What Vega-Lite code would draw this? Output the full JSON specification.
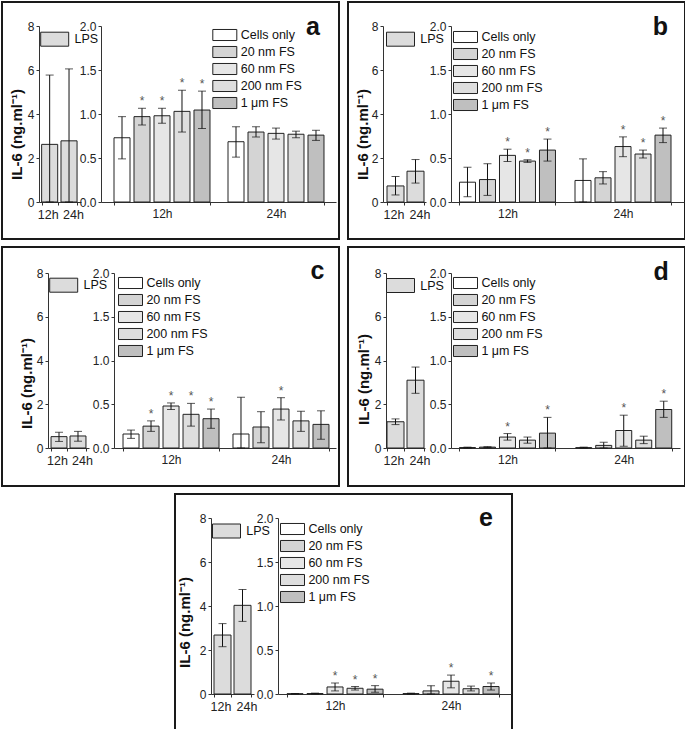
{
"$schema":"https://vega.github.io/schema/vega-lite/v6.json",
"padding":{"left":1,"top":1,"right":0,"bottom":0},
"background":"white",
"datasets":{
"lps":[
{"p":"a","t":"12h","g":"LPS","v":2.62,"lo":0,"hi":5.77},
{"p":"a","t":"24h","g":"LPS","v":2.78,"lo":0,"hi":6.05},
{"p":"b","t":"12h","g":"LPS","v":0.73,"lo":0.32,"hi":1.16},
{"p":"b","t":"24h","g":"LPS","v":1.40,"lo":0.86,"hi":1.93},
{"p":"c","t":"12h","g":"LPS","v":0.52,"lo":0.30,"hi":0.72},
{"p":"c","t":"24h","g":"LPS","v":0.55,"lo":0.31,"hi":0.76},
{"p":"d","t":"12h","g":"LPS","v":1.20,"lo":1.07,"hi":1.33},
{"p":"d","t":"24h","g":"LPS","v":3.10,"lo":2.50,"hi":3.70},
{"p":"e","t":"12h","g":"LPS","v":2.68,"lo":2.15,"hi":3.20},
{"p":"e","t":"24h","g":"LPS","v":4.03,"lo":3.30,"hi":4.75}
],
"fs":[
{"p":"a","t":"12h","s":"Cells only","v":0.73,"lo":0.49,"hi":0.97,"sig":false},
{"p":"a","t":"12h","s":"20 nm FS","v":0.97,"lo":0.875,"hi":1.065,"sig":true},
{"p":"a","t":"12h","s":"60 nm FS","v":0.98,"lo":0.895,"hi":1.065,"sig":true},
{"p":"a","t":"12h","s":"200 nm FS","v":1.03,"lo":0.795,"hi":1.27,"sig":true},
{"p":"a","t":"12h","s":"1 μm FS","v":1.045,"lo":0.835,"hi":1.26,"sig":true},
{"p":"a","t":"24h","s":"Cells only","v":0.685,"lo":0.51,"hi":0.855,"sig":false},
{"p":"a","t":"24h","s":"20 nm FS","v":0.795,"lo":0.74,"hi":0.855,"sig":false},
{"p":"a","t":"24h","s":"60 nm FS","v":0.78,"lo":0.715,"hi":0.84,"sig":false},
{"p":"a","t":"24h","s":"200 nm FS","v":0.77,"lo":0.73,"hi":0.805,"sig":false},
{"p":"a","t":"24h","s":"1 μm FS","v":0.76,"lo":0.70,"hi":0.815,"sig":false},
{"p":"b","t":"12h","s":"Cells only","v":0.225,"lo":0.06,"hi":0.395,"sig":false},
{"p":"b","t":"12h","s":"20 nm FS","v":0.255,"lo":0.075,"hi":0.435,"sig":false},
{"p":"b","t":"12h","s":"60 nm FS","v":0.53,"lo":0.46,"hi":0.60,"sig":true},
{"p":"b","t":"12h","s":"200 nm FS","v":0.465,"lo":0.45,"hi":0.48,"sig":true},
{"p":"b","t":"12h","s":"1 μm FS","v":0.59,"lo":0.465,"hi":0.715,"sig":true},
{"p":"b","t":"24h","s":"Cells only","v":0.245,"lo":0.0,"hi":0.49,"sig":false},
{"p":"b","t":"24h","s":"20 nm FS","v":0.275,"lo":0.205,"hi":0.345,"sig":false},
{"p":"b","t":"24h","s":"60 nm FS","v":0.63,"lo":0.515,"hi":0.74,"sig":true},
{"p":"b","t":"24h","s":"200 nm FS","v":0.545,"lo":0.50,"hi":0.59,"sig":true},
{"p":"b","t":"24h","s":"1 μm FS","v":0.76,"lo":0.675,"hi":0.84,"sig":true},
{"p":"c","t":"12h","s":"Cells only","v":0.16,"lo":0.11,"hi":0.205,"sig":false},
{"p":"c","t":"12h","s":"20 nm FS","v":0.25,"lo":0.19,"hi":0.31,"sig":true},
{"p":"c","t":"12h","s":"60 nm FS","v":0.48,"lo":0.44,"hi":0.515,"sig":true},
{"p":"c","t":"12h","s":"200 nm FS","v":0.385,"lo":0.25,"hi":0.51,"sig":true},
{"p":"c","t":"12h","s":"1 μm FS","v":0.335,"lo":0.225,"hi":0.445,"sig":true},
{"p":"c","t":"24h","s":"Cells only","v":0.16,"lo":0.0,"hi":0.58,"sig":false},
{"p":"c","t":"24h","s":"20 nm FS","v":0.24,"lo":0.06,"hi":0.415,"sig":false},
{"p":"c","t":"24h","s":"60 nm FS","v":0.445,"lo":0.32,"hi":0.575,"sig":true},
{"p":"c","t":"24h","s":"200 nm FS","v":0.31,"lo":0.19,"hi":0.42,"sig":false},
{"p":"c","t":"24h","s":"1 μm FS","v":0.27,"lo":0.10,"hi":0.425,"sig":false},
{"p":"d","t":"12h","s":"Cells only","v":0.005,"lo":0.0,"hi":0.01,"sig":false},
{"p":"d","t":"12h","s":"20 nm FS","v":0.01,"lo":0.005,"hi":0.015,"sig":false},
{"p":"d","t":"12h","s":"60 nm FS","v":0.125,"lo":0.09,"hi":0.165,"sig":true},
{"p":"d","t":"12h","s":"200 nm FS","v":0.09,"lo":0.055,"hi":0.125,"sig":false},
{"p":"d","t":"12h","s":"1 μm FS","v":0.17,"lo":0.0,"hi":0.35,"sig":true},
{"p":"d","t":"24h","s":"Cells only","v":0.004,"lo":0.0,"hi":0.01,"sig":false},
{"p":"d","t":"24h","s":"20 nm FS","v":0.03,"lo":0.0,"hi":0.065,"sig":false},
{"p":"d","t":"24h","s":"60 nm FS","v":0.20,"lo":0.02,"hi":0.375,"sig":true},
{"p":"d","t":"24h","s":"200 nm FS","v":0.09,"lo":0.05,"hi":0.135,"sig":false},
{"p":"d","t":"24h","s":"1 μm FS","v":0.44,"lo":0.35,"hi":0.535,"sig":true},
{"p":"e","t":"12h","s":"Cells only","v":0.003,"lo":0.0,"hi":0.006,"sig":false},
{"p":"e","t":"12h","s":"20 nm FS","v":0.005,"lo":0.002,"hi":0.01,"sig":false},
{"p":"e","t":"12h","s":"60 nm FS","v":0.08,"lo":0.035,"hi":0.125,"sig":true},
{"p":"e","t":"12h","s":"200 nm FS","v":0.065,"lo":0.045,"hi":0.085,"sig":true},
{"p":"e","t":"12h","s":"1 μm FS","v":0.055,"lo":0.02,"hi":0.095,"sig":true},
{"p":"e","t":"24h","s":"Cells only","v":0.005,"lo":0.0,"hi":0.01,"sig":false},
{"p":"e","t":"24h","s":"20 nm FS","v":0.035,"lo":0.0,"hi":0.095,"sig":false},
{"p":"e","t":"24h","s":"60 nm FS","v":0.145,"lo":0.07,"hi":0.215,"sig":true},
{"p":"e","t":"24h","s":"200 nm FS","v":0.06,"lo":0.035,"hi":0.09,"sig":false},
{"p":"e","t":"24h","s":"1 μm FS","v":0.085,"lo":0.045,"hi":0.125,"sig":true}
]
},
"vconcat":[
{"hconcat":[
{"width":337,"height":237,
"layer":[
{"data":{"name":"lps"},"transform":[{"filter":"datum.p==='a'"}],
"encoding":{"x":{"field":"t","type":"nominal","title":null,"scale":{"domain":["12h","24h"],"range":[37,79],"paddingInner":0.17,"paddingOuter":0.17,"align":0.4,"round":false},"axis":{"orient":"bottom","offset":-37,"labelAngle":0,"tickBand":"extent","labelPadding":3,"labelFontSize":12.5,"labelOffset":{"condition":{"test":"datum.value === '12h'","value":-2},"value":4}}}},
"layer":[
{"mark":{"type":"bar","stroke":"#222","strokeWidth":1},"encoding":{"y":{"field":"v","type":"quantitative","stack":null,"title":"IL-6 (ng.ml⁻¹)","scale":{"domain":[0,8],"range":[200,24]},"axis":{"orient":"left","offset":-37,"values":[0,2,4,6,8],"titleX":-23,"titleY":132}},"fill":{"field":"g","type":"nominal","scale":{"domain":["LPS"],"range":["#dcdcdc"]},"legend":{"orient":"none","legendX":45.2,"legendY":29.7,"title":null,"symbolType":"M-2,-1H2V1H-2Z","symbolSize":196,"labelOffset":12.3}}}},
{"mark":{"type":"rule","color":"#111"},"encoding":{"y":{"field":"lo","type":"quantitative","title":"IL-6 (ng.ml⁻¹)","scale":{"domain":[0,8],"range":[200,24]}},"y2":{"field":"hi"}}},
{"mark":{"type":"tick","color":"#111","size":8,"thickness":1},"encoding":{"y":{"field":"lo","type":"quantitative","title":"IL-6 (ng.ml⁻¹)","scale":{"domain":[0,8],"range":[200,24]}}}},
{"mark":{"type":"tick","color":"#111","size":8,"thickness":1},"encoding":{"y":{"field":"hi","type":"quantitative","title":"IL-6 (ng.ml⁻¹)","scale":{"domain":[0,8],"range":[200,24]}}}}
]},
{"data":{"name":"fs"},"transform":[{"filter":"datum.p==='a'"}],
"encoding":{"x":{"field":"t","type":"nominal","title":null,"scale":{"domain":["12h","24h"],"range":[99,334],"paddingInner":0.158,"paddingOuter":0.1097,"align":0.52,"round":false},"axis":{"orient":"bottom","offset":-37,"labelAngle":0,"tickBand":"extent","labelPadding":3}},
"xOffset":{"field":"s","type":"nominal","scale":{"domain":["Cells only","20 nm FS","60 nm FS","200 nm FS","1 μm FS"],"paddingInner":0.2,"paddingOuter":0}}},
"layer":[
{"mark":{"type":"bar","stroke":"#222","strokeWidth":1},"encoding":{"y":{"field":"v","type":"quantitative","stack":null,"title":null,"scale":{"domain":[0,2],"range":[200,24]},"axis":{"orient":"left","offset":-99,"values":[0,0.5,1,1.5,2],"format":".1f"}},"fill":{"field":"s","type":"nominal","scale":{"domain":["Cells only","20 nm FS","60 nm FS","200 nm FS","1 μm FS"],"range":["#ffffff","#d4d4d4","#e6e6e6","#dedede","#bfbfbf"]},"legend":{"orient":"none","legendX":216.3,"legendY":26.5,"title":null,"symbolType":"M-2,-0.92H2V0.92H-2Z","symbolSize":144,"labelOffset":9.4,"rowPadding":0}}}},
{"mark":{"type":"rule","color":"#111"},"encoding":{"y":{"field":"lo","type":"quantitative","title":null,"scale":{"domain":[0,2],"range":[200,24]}},"y2":{"field":"hi"}}},
{"mark":{"type":"tick","color":"#111","size":8,"thickness":1},"encoding":{"y":{"field":"lo","type":"quantitative","title":null,"scale":{"domain":[0,2],"range":[200,24]}}}},
{"mark":{"type":"tick","color":"#111","size":8,"thickness":1},"encoding":{"y":{"field":"hi","type":"quantitative","title":null,"scale":{"domain":[0,2],"range":[200,24]}}}},
{"transform":[{"filter":"datum.sig"}],"mark":{"type":"text","text":"*","fontSize":12,"color":"#555","baseline":"middle","dy":-7},"encoding":{"y":{"field":"hi","type":"quantitative","title":null,"scale":{"domain":[0,2],"range":[200,24]}}}},
{"transform":[{"filter":"datum.t==='24h' && datum.s==='1 μm FS'"}],"mark":{"type":"text","text":"a","fontSize":25,"fontWeight":"bold","color":"#111","baseline":"alphabetic","align":"center","dx":-3,"dy":9},"encoding":{"y":{"datum":2,"type":"quantitative","title":null,"scale":{"domain":[0,2],"range":[200,24]}}}}
]}
],
"resolve":{"scale":{"x":"independent","y":"independent","fill":"independent","xOffset":"independent"},"axis":{"x":"independent","y":"independent"},"legend":{"fill":"independent"}}
},
{"width":337,"height":237,
"layer":[
{"data":{"name":"lps"},"transform":[{"filter":"datum.p==='b'"}],
"encoding":{"x":{"field":"t","type":"nominal","title":null,"scale":{"domain":["12h","24h"],"range":[35,78],"paddingInner":0.15,"paddingOuter":0.15,"align":0.667,"round":false},"axis":{"orient":"bottom","offset":-37,"labelAngle":0,"tickBand":"extent","labelPadding":3,"labelFontSize":12.5,"labelOffset":{"condition":{"test":"datum.value === '12h'","value":-2},"value":4}}}},
"layer":[
{"mark":{"type":"bar","stroke":"#222","strokeWidth":1},"encoding":{"y":{"field":"v","type":"quantitative","stack":null,"title":"IL-6 (ng.ml⁻¹)","scale":{"domain":[0,8],"range":[200,24]},"axis":{"orient":"left","offset":-35,"values":[0,2,4,6,8],"titleX":-21,"titleY":132}},"fill":{"field":"g","type":"nominal","scale":{"domain":["LPS"],"range":["#dcdcdc"]},"legend":{"orient":"none","legendX":45,"legendY":29.7,"title":null,"symbolType":"M-2,-1H2V1H-2Z","symbolSize":196,"labelOffset":12.3}}}},
{"mark":{"type":"rule","color":"#111"},"encoding":{"y":{"field":"lo","type":"quantitative","title":"IL-6 (ng.ml⁻¹)","scale":{"domain":[0,8],"range":[200,24]}},"y2":{"field":"hi"}}},
{"mark":{"type":"tick","color":"#111","size":8,"thickness":1},"encoding":{"y":{"field":"lo","type":"quantitative","title":"IL-6 (ng.ml⁻¹)","scale":{"domain":[0,8],"range":[200,24]}}}},
{"mark":{"type":"tick","color":"#111","size":8,"thickness":1},"encoding":{"y":{"field":"hi","type":"quantitative","title":"IL-6 (ng.ml⁻¹)","scale":{"domain":[0,8],"range":[200,24]}}}}
]},
{"data":{"name":"fs"},"transform":[{"filter":"datum.p==='b'"}],
"encoding":{"x":{"field":"t","type":"nominal","title":null,"scale":{"domain":["12h","24h"],"range":[103,336],"paddingInner":0.169,"paddingOuter":0.093,"align":0.395,"round":false},"axis":{"orient":"bottom","offset":-37,"labelAngle":0,"tickBand":"extent","labelPadding":3}},
"xOffset":{"field":"s","type":"nominal","scale":{"domain":["Cells only","20 nm FS","60 nm FS","200 nm FS","1 μm FS"],"paddingInner":0.2,"paddingOuter":0}}},
"layer":[
{"mark":{"type":"bar","stroke":"#222","strokeWidth":1},"encoding":{"y":{"field":"v","type":"quantitative","stack":null,"title":null,"scale":{"domain":[0,2],"range":[200,24]},"axis":{"orient":"left","offset":-103,"values":[0,0.5,1,1.5,2],"format":".1f"}},"fill":{"field":"s","type":"nominal","scale":{"domain":["Cells only","20 nm FS","60 nm FS","200 nm FS","1 μm FS"],"range":["#ffffff","#d4d4d4","#e6e6e6","#dedede","#bfbfbf"]},"legend":{"orient":"none","legendX":111,"legendY":28.5,"title":null,"symbolType":"M-2,-0.92H2V0.92H-2Z","symbolSize":144,"labelOffset":9.4,"rowPadding":0}}}},
{"mark":{"type":"rule","color":"#111"},"encoding":{"y":{"field":"lo","type":"quantitative","title":null,"scale":{"domain":[0,2],"range":[200,24]}},"y2":{"field":"hi"}}},
{"mark":{"type":"tick","color":"#111","size":8,"thickness":1},"encoding":{"y":{"field":"lo","type":"quantitative","title":null,"scale":{"domain":[0,2],"range":[200,24]}}}},
{"mark":{"type":"tick","color":"#111","size":8,"thickness":1},"encoding":{"y":{"field":"hi","type":"quantitative","title":null,"scale":{"domain":[0,2],"range":[200,24]}}}},
{"transform":[{"filter":"datum.sig"}],"mark":{"type":"text","text":"*","fontSize":12,"color":"#555","baseline":"middle","dy":-7},"encoding":{"y":{"field":"hi","type":"quantitative","title":null,"scale":{"domain":[0,2],"range":[200,24]}}}},
{"transform":[{"filter":"datum.t==='24h' && datum.s==='1 μm FS'"}],"mark":{"type":"text","text":"b","fontSize":25,"fontWeight":"bold","color":"#111","baseline":"alphabetic","align":"center","dx":-2.5,"dy":9},"encoding":{"y":{"datum":2,"type":"quantitative","title":null,"scale":{"domain":[0,2],"range":[200,24]}}}}
]}
],
"resolve":{"scale":{"x":"independent","y":"independent","fill":"independent","xOffset":"independent"},"axis":{"x":"independent","y":"independent"},"legend":{"fill":"independent"}}
}
],"spacing":7},
{"hconcat":[
{"width":337,"height":239,
"layer":[
{"data":{"name":"lps"},"transform":[{"filter":"datum.p==='c'"}],
"encoding":{"x":{"field":"t","type":"nominal","title":null,"scale":{"domain":["12h","24h"],"range":[46,87],"paddingInner":0.16,"paddingOuter":0.16,"align":0.5,"round":false},"axis":{"orient":"bottom","offset":-38,"labelAngle":0,"tickBand":"extent","labelPadding":3,"labelFontSize":12.5,"labelOffset":{"condition":{"test":"datum.value === '12h'","value":-2},"value":4}}}},
"layer":[
{"mark":{"type":"bar","stroke":"#222","strokeWidth":1},"encoding":{"y":{"field":"v","type":"quantitative","stack":null,"title":"IL-6 (ng.ml⁻¹)","scale":{"domain":[0,8],"range":[201,26]},"axis":{"orient":"left","offset":-46,"values":[0,2,4,6,8],"titleX":-22,"titleY":136}},"fill":{"field":"g","type":"nominal","scale":{"domain":["LPS"],"range":["#dcdcdc"]},"legend":{"orient":"none","legendX":54.2,"legendY":30.7,"title":null,"symbolType":"M-2,-1H2V1H-2Z","symbolSize":196,"labelOffset":12.3}}}},
{"mark":{"type":"rule","color":"#111"},"encoding":{"y":{"field":"lo","type":"quantitative","title":"IL-6 (ng.ml⁻¹)","scale":{"domain":[0,8],"range":[201,26]}},"y2":{"field":"hi"}}},
{"mark":{"type":"tick","color":"#111","size":8,"thickness":1},"encoding":{"y":{"field":"lo","type":"quantitative","title":"IL-6 (ng.ml⁻¹)","scale":{"domain":[0,8],"range":[201,26]}}}},
{"mark":{"type":"tick","color":"#111","size":8,"thickness":1},"encoding":{"y":{"field":"hi","type":"quantitative","title":"IL-6 (ng.ml⁻¹)","scale":{"domain":[0,8],"range":[201,26]}}}}
]},
{"data":{"name":"fs"},"transform":[{"filter":"datum.p==='c'"}],
"encoding":{"x":{"field":"t","type":"nominal","title":null,"scale":{"domain":["12h","24h"],"range":[112,334],"paddingInner":0.127,"paddingOuter":0.073,"align":0.5625,"round":false},"axis":{"orient":"bottom","offset":-38,"labelAngle":0,"tickBand":"extent","labelPadding":3}},
"xOffset":{"field":"s","type":"nominal","scale":{"domain":["Cells only","20 nm FS","60 nm FS","200 nm FS","1 μm FS"],"paddingInner":0.2,"paddingOuter":0}}},
"layer":[
{"mark":{"type":"bar","stroke":"#222","strokeWidth":1},"encoding":{"y":{"field":"v","type":"quantitative","stack":null,"title":null,"scale":{"domain":[0,2],"range":[201,26]},"axis":{"orient":"left","offset":-112,"values":[0,0.5,1,1.5,2],"format":".1f"}},"fill":{"field":"s","type":"nominal","scale":{"domain":["Cells only","20 nm FS","60 nm FS","200 nm FS","1 μm FS"],"range":["#ffffff","#d4d4d4","#e6e6e6","#dedede","#bfbfbf"]},"legend":{"orient":"none","legendX":122,"legendY":29.5,"title":null,"symbolType":"M-2,-0.92H2V0.92H-2Z","symbolSize":144,"labelOffset":9.4,"rowPadding":0}}}},
{"mark":{"type":"rule","color":"#111"},"encoding":{"y":{"field":"lo","type":"quantitative","title":null,"scale":{"domain":[0,2],"range":[201,26]}},"y2":{"field":"hi"}}},
{"mark":{"type":"tick","color":"#111","size":8,"thickness":1},"encoding":{"y":{"field":"lo","type":"quantitative","title":null,"scale":{"domain":[0,2],"range":[201,26]}}}},
{"mark":{"type":"tick","color":"#111","size":8,"thickness":1},"encoding":{"y":{"field":"hi","type":"quantitative","title":null,"scale":{"domain":[0,2],"range":[201,26]}}}},
{"transform":[{"filter":"datum.sig"}],"mark":{"type":"text","text":"*","fontSize":12,"color":"#555","baseline":"middle","dy":-7},"encoding":{"y":{"field":"hi","type":"quantitative","title":null,"scale":{"domain":[0,2],"range":[201,26]}}}},
{"transform":[{"filter":"datum.t==='24h' && datum.s==='1 μm FS'"}],"mark":{"type":"text","text":"c","fontSize":25,"fontWeight":"bold","color":"#111","baseline":"alphabetic","align":"center","dx":-3.4,"dy":6},"encoding":{"y":{"datum":2,"type":"quantitative","title":null,"scale":{"domain":[0,2],"range":[201,26]}}}}
]}
],
"resolve":{"scale":{"x":"independent","y":"independent","fill":"independent","xOffset":"independent"},"axis":{"x":"independent","y":"independent"},"legend":{"fill":"independent"}}
},
{"width":337,"height":239,
"layer":[
{"data":{"name":"lps"},"transform":[{"filter":"datum.p==='d'"}],
"encoding":{"x":{"field":"t","type":"nominal","title":null,"scale":{"domain":["12h","24h"],"range":[38,77],"paddingInner":0.15,"paddingOuter":0.05,"align":0.5,"round":false},"axis":{"orient":"bottom","offset":-38,"labelAngle":0,"tickBand":"extent","labelPadding":3,"labelFontSize":12.5,"labelOffset":{"condition":{"test":"datum.value === '12h'","value":-2},"value":4}}}},
"layer":[
{"mark":{"type":"bar","stroke":"#222","strokeWidth":1},"encoding":{"y":{"field":"v","type":"quantitative","stack":null,"title":"IL-6 (ng.ml⁻¹)","scale":{"domain":[0,8],"range":[201,26]},"axis":{"orient":"left","offset":-38,"values":[0,2,4,6,8],"titleX":-23,"titleY":132}},"fill":{"field":"g","type":"nominal","scale":{"domain":["LPS"],"range":["#dcdcdc"]},"legend":{"orient":"none","legendX":45,"legendY":31,"title":null,"symbolType":"M-2,-1H2V1H-2Z","symbolSize":196,"labelOffset":12.3}}}},
{"mark":{"type":"rule","color":"#111"},"encoding":{"y":{"field":"lo","type":"quantitative","title":"IL-6 (ng.ml⁻¹)","scale":{"domain":[0,8],"range":[201,26]}},"y2":{"field":"hi"}}},
{"mark":{"type":"tick","color":"#111","size":8,"thickness":1},"encoding":{"y":{"field":"lo","type":"quantitative","title":"IL-6 (ng.ml⁻¹)","scale":{"domain":[0,8],"range":[201,26]}}}},
{"mark":{"type":"tick","color":"#111","size":8,"thickness":1},"encoding":{"y":{"field":"hi","type":"quantitative","title":"IL-6 (ng.ml⁻¹)","scale":{"domain":[0,8],"range":[201,26]}}}}
]},
{"data":{"name":"fs"},"transform":[{"filter":"datum.p==='d'"}],
"encoding":{"x":{"field":"t","type":"nominal","title":null,"scale":{"domain":["12h","24h"],"range":[103,332],"paddingInner":0.174,"paddingOuter":0.072,"align":0.506,"round":false},"axis":{"orient":"bottom","offset":-38,"labelAngle":0,"tickBand":"extent","labelPadding":3}},
"xOffset":{"field":"s","type":"nominal","scale":{"domain":["Cells only","20 nm FS","60 nm FS","200 nm FS","1 μm FS"],"paddingInner":0.2,"paddingOuter":0}}},
"layer":[
{"mark":{"type":"bar","stroke":"#222","strokeWidth":1},"encoding":{"y":{"field":"v","type":"quantitative","stack":null,"title":null,"scale":{"domain":[0,2],"range":[201,26]},"axis":{"orient":"left","offset":-103,"values":[0,0.5,1,1.5,2],"format":".1f"}},"fill":{"field":"s","type":"nominal","scale":{"domain":["Cells only","20 nm FS","60 nm FS","200 nm FS","1 μm FS"],"range":["#ffffff","#d4d4d4","#e6e6e6","#dedede","#bfbfbf"]},"legend":{"orient":"none","legendX":111,"legendY":29.5,"title":null,"symbolType":"M-2,-0.92H2V0.92H-2Z","symbolSize":144,"labelOffset":9.4,"rowPadding":0}}}},
{"mark":{"type":"rule","color":"#111"},"encoding":{"y":{"field":"lo","type":"quantitative","title":null,"scale":{"domain":[0,2],"range":[201,26]}},"y2":{"field":"hi"}}},
{"mark":{"type":"tick","color":"#111","size":8,"thickness":1},"encoding":{"y":{"field":"lo","type":"quantitative","title":null,"scale":{"domain":[0,2],"range":[201,26]}}}},
{"mark":{"type":"tick","color":"#111","size":8,"thickness":1},"encoding":{"y":{"field":"hi","type":"quantitative","title":null,"scale":{"domain":[0,2],"range":[201,26]}}}},
{"transform":[{"filter":"datum.sig"}],"mark":{"type":"text","text":"*","fontSize":12,"color":"#555","baseline":"middle","dy":-7},"encoding":{"y":{"field":"hi","type":"quantitative","title":null,"scale":{"domain":[0,2],"range":[201,26]}}}},
{"transform":[{"filter":"datum.t==='24h' && datum.s==='1 μm FS'"}],"mark":{"type":"text","text":"d","fontSize":25,"fontWeight":"bold","color":"#111","baseline":"alphabetic","align":"center","dx":-2.5,"dy":7},"encoding":{"y":{"datum":2,"type":"quantitative","title":null,"scale":{"domain":[0,2],"range":[201,26]}}}}
]}
],
"resolve":{"scale":{"x":"independent","y":"independent","fill":"independent","xOffset":"independent"},"axis":{"x":"independent","y":"independent"},"legend":{"fill":"independent"}}
}
],"spacing":7},
{"width":337,"height":238,
"layer":[
{"data":{"name":"lps"},"transform":[{"filter":"datum.p==='e'"}],
"encoding":{"x":{"field":"t","type":"nominal","title":null,"scale":{"domain":["12h","24h"],"range":[36,79],"paddingInner":0.15,"paddingOuter":0.15,"align":0.5,"round":false},"axis":{"orient":"bottom","offset":-38,"labelAngle":0,"tickBand":"extent","labelPadding":3,"labelFontSize":12.5,"labelOffset":{"condition":{"test":"datum.value === '12h'","value":-2},"value":4}}}},
"layer":[
{"mark":{"type":"bar","stroke":"#222","strokeWidth":1},"encoding":{"y":{"field":"v","type":"quantitative","stack":null,"title":"IL-6 (ng.ml⁻¹)","scale":{"domain":[0,8],"range":[200,24]},"axis":{"orient":"left","offset":-36,"values":[0,2,4,6,8],"titleX":-27,"titleY":128}},"fill":{"field":"g","type":"nominal","scale":{"domain":["LPS"],"range":["#dcdcdc"]},"legend":{"orient":"none","legendX":44,"legendY":29.5,"title":null,"symbolType":"M-2,-1H2V1H-2Z","symbolSize":196,"labelOffset":12.3}}}},
{"mark":{"type":"rule","color":"#111"},"encoding":{"y":{"field":"lo","type":"quantitative","title":"IL-6 (ng.ml⁻¹)","scale":{"domain":[0,8],"range":[200,24]}},"y2":{"field":"hi"}}},
{"mark":{"type":"tick","color":"#111","size":8,"thickness":1},"encoding":{"y":{"field":"lo","type":"quantitative","title":"IL-6 (ng.ml⁻¹)","scale":{"domain":[0,8],"range":[200,24]}}}},
{"mark":{"type":"tick","color":"#111","size":8,"thickness":1},"encoding":{"y":{"field":"hi","type":"quantitative","title":"IL-6 (ng.ml⁻¹)","scale":{"domain":[0,8],"range":[200,24]}}}}
]},
{"data":{"name":"fs"},"transform":[{"filter":"datum.p==='e'"}],
"encoding":{"x":{"field":"t","type":"nominal","title":null,"scale":{"domain":["12h","24h"],"range":[103,336],"paddingInner":0.172,"paddingOuter":0.0905,"align":0.43,"round":false},"axis":{"orient":"bottom","offset":-38,"labelAngle":0,"tickBand":"extent","labelPadding":3}},
"xOffset":{"field":"s","type":"nominal","scale":{"domain":["Cells only","20 nm FS","60 nm FS","200 nm FS","1 μm FS"],"paddingInner":0.2,"paddingOuter":0}}},
"layer":[
{"mark":{"type":"bar","stroke":"#222","strokeWidth":1},"encoding":{"y":{"field":"v","type":"quantitative","stack":null,"title":null,"scale":{"domain":[0,2],"range":[200,24]},"axis":{"orient":"left","offset":-103,"values":[0,0.5,1,1.5,2],"format":".1f"}},"fill":{"field":"s","type":"nominal","scale":{"domain":["Cells only","20 nm FS","60 nm FS","200 nm FS","1 μm FS"],"range":["#ffffff","#d4d4d4","#e6e6e6","#dedede","#bfbfbf"]},"legend":{"orient":"none","legendX":111,"legendY":28.5,"title":null,"symbolType":"M-2,-0.92H2V0.92H-2Z","symbolSize":144,"labelOffset":9.4,"rowPadding":0}}}},
{"mark":{"type":"rule","color":"#111"},"encoding":{"y":{"field":"lo","type":"quantitative","title":null,"scale":{"domain":[0,2],"range":[200,24]}},"y2":{"field":"hi"}}},
{"mark":{"type":"tick","color":"#111","size":8,"thickness":1},"encoding":{"y":{"field":"lo","type":"quantitative","title":null,"scale":{"domain":[0,2],"range":[200,24]}}}},
{"mark":{"type":"tick","color":"#111","size":8,"thickness":1},"encoding":{"y":{"field":"hi","type":"quantitative","title":null,"scale":{"domain":[0,2],"range":[200,24]}}}},
{"transform":[{"filter":"datum.sig"}],"mark":{"type":"text","text":"*","fontSize":12,"color":"#555","baseline":"middle","dy":-7},"encoding":{"y":{"field":"hi","type":"quantitative","title":null,"scale":{"domain":[0,2],"range":[200,24]}}}},
{"transform":[{"filter":"datum.t==='24h' && datum.s==='1 μm FS'"}],"mark":{"type":"text","text":"e","fontSize":25,"fontWeight":"bold","color":"#111","baseline":"alphabetic","align":"center","dx":-5,"dy":8},"encoding":{"y":{"datum":2,"type":"quantitative","title":null,"scale":{"domain":[0,2],"range":[200,24]}}}}
]}
],
"resolve":{"scale":{"x":"independent","y":"independent","fill":"independent","xOffset":"independent"},"axis":{"x":"independent","y":"independent"},"legend":{"fill":"independent"}}
}
],
"spacing":6,"center":true,
"config":{
"font":"Liberation Sans",
"view":{"stroke":"#1a1a1a","strokeWidth":2},
"axis":{"grid":false,"domainColor":"#333","tickColor":"#333","labelColor":"#222","labelFont":"Liberation Sans","labelFontSize":12,"tickSize":3,"labelPadding":2,"domainWidth":1,"tickWidth":1,"titleFont":"Liberation Sans","titleFontSize":15,"titleFontWeight":"bold","titleColor":"#111"},
"axisY":{"titleAngle":-90,"titleAlign":"center","titleBaseline":"middle"},
"legend":{"padding":0,"symbolStrokeColor":"#222","symbolStrokeWidth":1,"labelFont":"Liberation Sans","labelFontSize":12.5,"labelColor":"#111"},
"text":{"font":"Liberation Sans"}
}
}
